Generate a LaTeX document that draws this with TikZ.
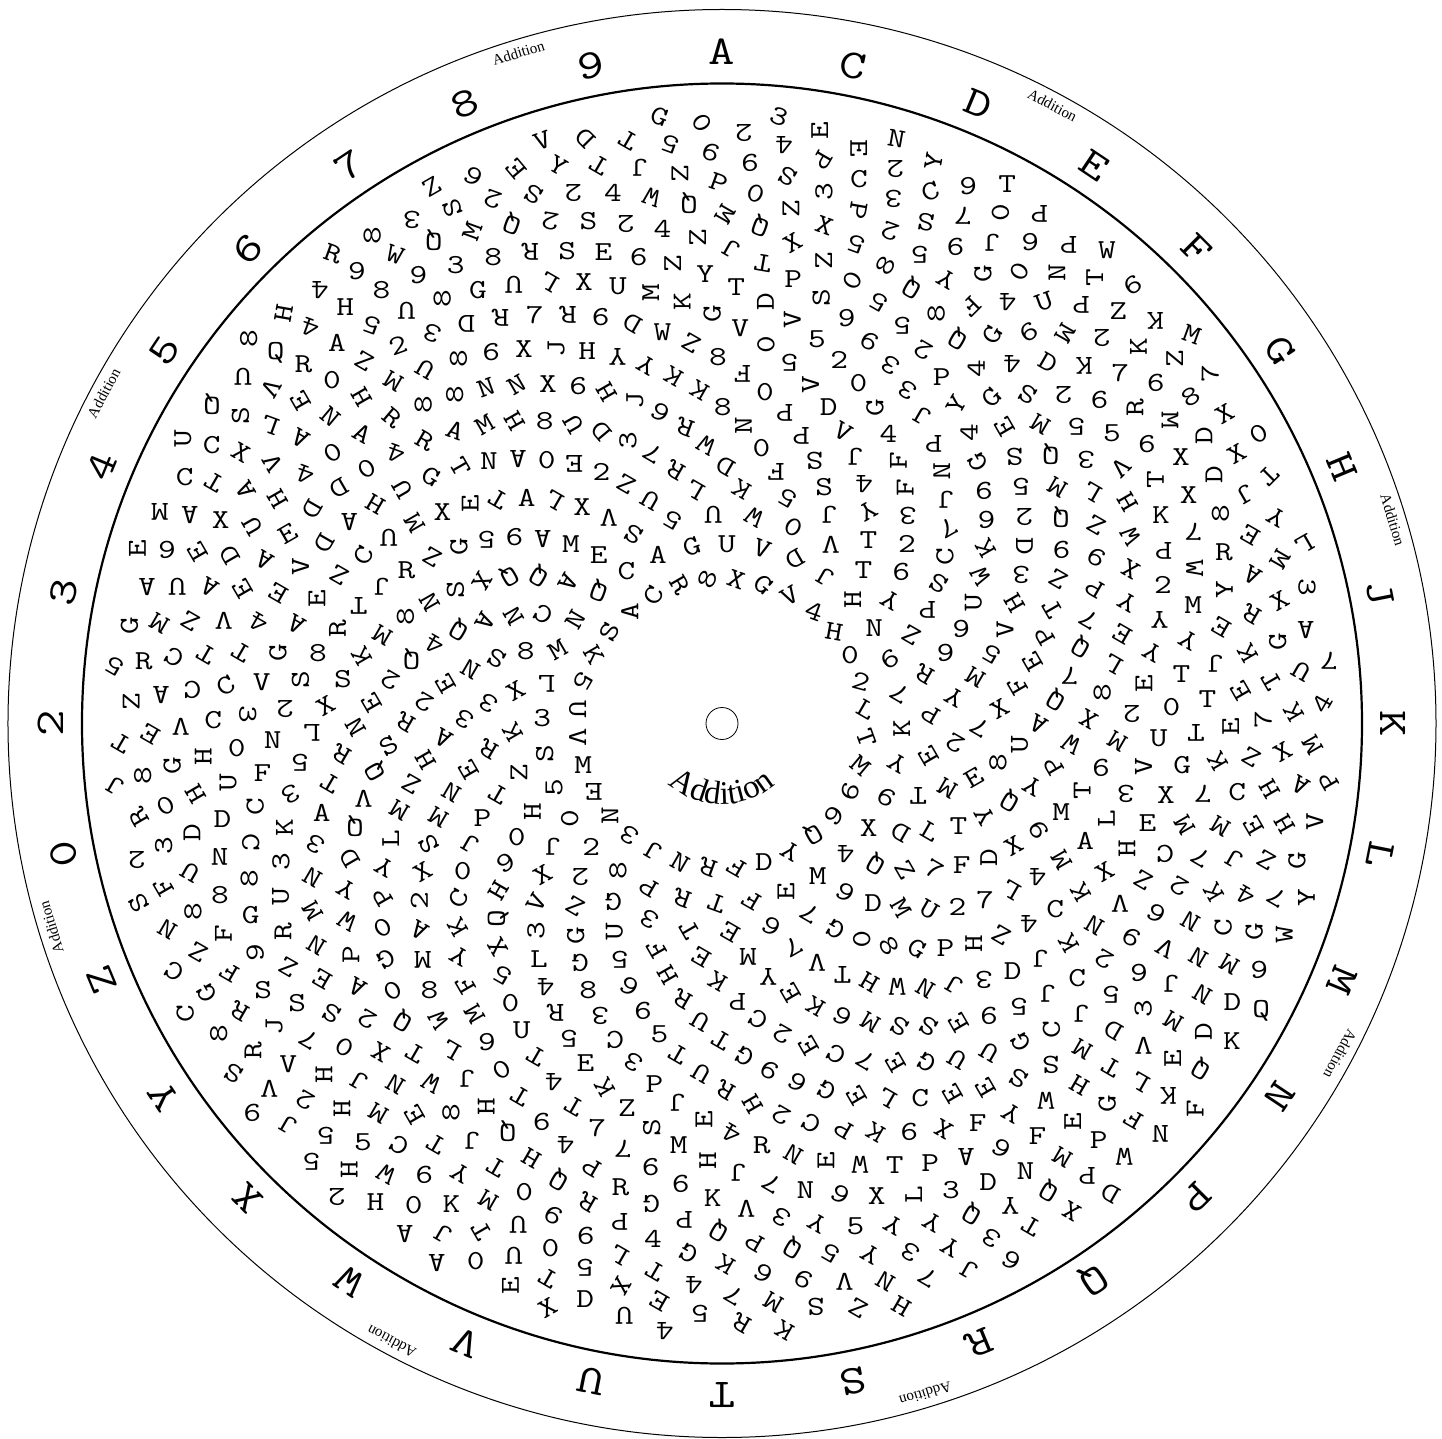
\documentclass[tikz,border=0pt]{standalone}
\usepackage{fontspec}
\setmainfont{Liberation Serif}
\usetikzlibrary{decorations.text}
% ---------- lattice snapping of read characters ----------
\newcommand\settile[2]{\gdef\wzox{#1}\gdef\wzoy{#2}}
\newcommand\wztry{%
  \pgfmathsetmacro\wzrj{sqrt(2.1025+1.1325*\wzj)}%
  \pgfmathsetmacro\wztj{5.625-4*\wzj}%
  \pgfmathtruncatemacro\wzkk{round((\wzth-\wztj)/11.25)}%
  \pgfmathsetmacro\wzt{\wztj+11.25*\wzkk}%
  \pgfmathsetmacro\wzd{(\wzrj*sin(\wzt)-\wzdx)^2+(\wzrj*cos(\wzt)-\wzdy)^2}%
  \ifdim\wzd pt<\wzbest pt
    \pgfmathtruncatemacro\wzk{mod(\wzkk+64,32)}%
    \xdef\wzbest{\wzd}\xdef\wzbj{\wzj}\xdef\wzbk{\wzk}%
  \fi}
\newcommand\gl[4]{%
  \pgfmathsetmacro\wzdx{(\wzox+#1/3-722)/100}%
  \pgfmathsetmacro\wzdy{(723.5-\wzoy-#2/3)/100}%
  \pgfmathsetmacro\wzth{atan2(\wzdx,\wzdy)}%
  \pgfmathtruncatemacro\wzjz{round((\wzdx*\wzdx+\wzdy*\wzdy-2.1025)/1.1325)}%
  \gdef\wzbest{1000}\gdef\wzbj{0}\gdef\wzbk{0}%
  \foreach \wzjj in {-1,0,1}{%
    \pgfmathtruncatemacro\wzj{\wzjz+\wzjj}%
    \ifnum\wzj>-1 \ifnum\wzj<32 \wztry\fi\fi}%
  \expandafter\gdef\csname C@\wzbj @\wzbk\endcsname{#3}%
  \expandafter\gdef\csname R@\wzbj @\wzbk\endcsname{#4}}
\newcommand\wzch[1]{\ifcase#1 A\or C\or D\or E\or F\or G\or H\or J\or K\or L\or M\or N\or P\or Q\or R\or S\or T\or U\or V\or W\or X\or Y\or Z\or 0\or 2\or 3\or 4\or 5\or 6\or 7\or 8\or 9\fi}
\begin{document}
\begin{tikzpicture}[x=1pt,y=1pt,
  ich/.style={font=\ttfamily\fontsize{27.5}{27.5}\selectfont,inner sep=0pt,text height=16.8pt,text depth=0pt,anchor=center},
  och/.style={font=\ttfamily\fontsize{41}{41}\selectfont,inner sep=0pt,text height=25pt,text depth=0pt,anchor=center},
  lab/.style={font=\fontsize{15}{15}\selectfont,inner sep=0pt,anchor=center}]
\useasboundingbox (-722,-714.5) rectangle (720,723.5);
% ================= readings (approximate tiles first) =================
\settile{952}{0}
\gl{45}{575}{9}{0}\gl{160}{560}{T}{0}\gl{15}{660}{7}{180}\gl{150}{650}{0}{90}\gl{255}{655}{P}{180}
\gl{15}{745}{6}{180}\gl{120}{740}{J}{180}\gl{230}{735}{9}{0}\gl{345}{745}{P}{180}\gl{465}{760}{W}{0}
\gl{85}{830}{G}{90}\gl{205}{820}{0}{60}\gl{310}{830}{N}{90}\gl{430}{840}{T}{90}\gl{535}{860}{9}{-150}
\gl{45}{930}{F}{-135}\gl{160}{925}{4}{180}\gl{270}{915}{U}{20}\gl{385}{935}{P}{180}\gl{490}{945}{Z}{0}
\gl{600}{990}{K}{180}\gl{715}{1010}{M}{-20}\gl{20}{1030}{Q}{150}\gl{115}{1020}{G}{60}\gl{230}{1015}{9}{-150}
\gl{330}{1015}{M}{-120}\gl{450}{1030}{2}{180}\gl{550}{1050}{K}{90}\gl{670}{1090}{Z}{90}\gl{760}{1120}{7}{90}
\gl{60}{1110}{4}{90}\gl{185}{1110}{4}{180}\gl{280}{1100}{D}{-30}\gl{390}{1110}{K}{180}\gl{500}{1125}{7}{0}
\gl{610}{1160}{9}{180}\gl{710}{1195}{8}{30}\gl{10}{1210}{Y}{60}\gl{115}{1200}{G}{45}\gl{220}{1190}{S}{150}
\gl{330}{1190}{2}{180}\gl{440}{1215}{9}{180}\gl{545}{1235}{R}{90}\gl{810}{1250}{X}{30}\gl{40}{1310}{4}{90}
\gl{160}{1295}{E}{120}\gl{260}{1280}{M}{150}\gl{370}{1300}{5}{180}\gl{470}{1300}{5}{0}\gl{660}{1260}{M}{-90}
\gl{740}{1310}{D}{90}\gl{905}{1300}{0}{30}\gl{70}{1390}{G}{120}\gl{185}{1385}{S}{180}\gl{290}{1370}{Q}{180}
\gl{400}{1380}{3}{180}\gl{575}{1350}{6}{0}\gl{680}{1375}{X}{0}\gl{850}{1370}{X}{30}\gl{490}{1420}{V}{-135}
\gl{600}{1440}{T}{90}\gl{770}{1440}{D}{90}\gl{930}{1440}{T}{-135}
\settile{0}{476}
\gl{1025}{30}{D}{-150}\gl{1230}{30}{U}{120}\gl{490}{110}{M}{180}\gl{580}{130}{A}{180}\gl{670}{130}{X}{0}
\gl{830}{85}{H}{120}\gl{770}{150}{U}{120}\gl{940}{100}{D}{-120}\gl{1050}{140}{A}{180}\gl{1130}{85}{H}{150}
\gl{1250}{130}{M}{120}\gl{1320}{100}{X}{0}\gl{1400}{90}{E}{90}\gl{415}{230}{E}{90}\gl{510}{220}{6}{180}
\gl{600}{235}{E}{120}\gl{700}{250}{D}{120}\gl{790}{270}{A}{150}\gl{890}{270}{V}{90}\gl{980}{210}{D}{-120}
\gl{1100}{250}{C}{60}\gl{1165}{200}{U}{180}\gl{1380}{215}{G}{90}\gl{440}{340}{A}{180}\gl{540}{330}{U}{180}
\gl{640}{330}{A}{150}\gl{735}{345}{E}{120}\gl{840}{355}{E}{150}\gl{1010}{300}{Z}{150}\gl{1220}{280}{R}{0}
\gl{1300}{255}{Z}{150}\gl{1150}{340}{J}{180}\gl{1350}{340}{S}{90}\gl{955}{375}{E}{90}\gl{395}{450}{G}{90}
\gl{480}{440}{M}{150}\gl{570}{440}{Z}{150}\gl{690}{425}{V}{180}\gl{775}{430}{4}{150}\gl{890}{440}{A}{150}
\gl{1070}{410}{T}{180}\gl{1010}{460}{R}{90}\gl{1190}{420}{8}{90}\gl{1295}{385}{N}{120}\gl{1365}{470}{Q}{150}
\gl{340}{575}{5}{150}\gl{440}{555}{R}{0}\gl{530}{545}{C}{150}\gl{630}{540}{T}{150}\gl{730}{530}{T}{150}
\gl{840}{530}{G}{90}\gl{960}{530}{8}{0}\gl{1150}{480}{M}{150}\gl{1085}{540}{K}{120}\gl{1300}{510}{4}{150}
\gl{1235}{560}{Q}{180}\gl{1380}{595}{N}{150}\gl{400}{680}{Z}{90}\gl{490}{650}{A}{180}\gl{570}{650}{C}{180}
\gl{685}{625}{C}{30}\gl{790}{610}{V}{0}\gl{910}{620}{S}{90}\gl{1030}{615}{S}{0}\gl{1165}{625}{2}{150}
\gl{1340}{640}{E}{120}\gl{370}{790}{T}{150}\gl{450}{775}{E}{150}\gl{540}{755}{V}{180}\gl{650}{730}{C}{0}
\gl{750}{720}{3}{-90}\gl{860}{700}{2}{180}\gl{980}{690}{X}{30}\gl{1095}{690}{E}{120}\gl{1270}{680}{2}{150}
\gl{1380}{720}{3}{150}\gl{345}{920}{J}{150}\gl{435}{900}{8}{90}\gl{520}{870}{G}{90}\gl{610}{845}{H}{90}
\gl{725}{820}{0}{0}\gl{820}{800}{N}{0}\gl{930}{780}{L}{180}\gl{1070}{750}{N}{120}\gl{1310}{785}{A}{150}
\gl{1200}{760}{R}{150}\gl{420}{1020}{R}{120}\gl{510}{990}{0}{30}\gl{600}{965}{H}{120}\gl{690}{920}{U}{90}
\gl{795}{890}{F}{0}\gl{900}{860}{5}{180}\gl{1015}{840}{R}{150}\gl{1120}{900}{Q}{120}\gl{1270}{860}{H}{120}
\gl{1380}{880}{E}{120}\gl{410}{1150}{2}{180}\gl{490}{1110}{3}{90}\gl{580}{1060}{D}{90}\gl{670}{1020}{D}{0}
\gl{775}{1000}{C}{90}\gl{875}{960}{3}{-150}\gl{990}{935}{T}{150}\gl{1100}{960}{V}{180}\gl{1240}{935}{Z}{150}
\gl{1350}{950}{N}{150}\gl{420}{1280}{S}{120}\gl{490}{1220}{F}{120}\gl{580}{1180}{U}{150}\gl{665}{1140}{N}{180}
\gl{760}{1090}{C}{-90}\gl{850}{1060}{K}{90}\gl{970}{1010}{A}{0}\gl{1070}{1060}{Q}{180}\gl{1200}{1010}{M}{150}
\gl{1320}{1020}{M}{150}\gl{500}{1350}{N}{150}\gl{585}{1300}{8}{90}\gl{660}{1255}{8}{0}\gl{745}{1200}{8}{90}
\gl{845}{1150}{3}{90}\gl{950}{1100}{3}{150}\gl{1050}{1160}{D}{120}\gl{1150}{1170}{Y}{150}\gl{1270}{1100}{S}{120}
\gl{1400}{1100}{J}{150}\gl{580}{1430}{Z}{150}\gl{670}{1385}{F}{90}\gl{760}{1310}{G}{0}\gl{845}{1270}{U}{90}
\gl{940}{1200}{N}{150}\gl{1040}{1230}{Y}{150}\gl{1250}{1190}{X}{30}\gl{1380}{1180}{0}{0}\gl{760}{1420}{9}{90}
\gl{850}{1380}{R}{90}\gl{945}{1330}{M}{120}\gl{1040}{1330}{W}{150}\gl{1160}{1280}{P}{120}\gl{1250}{1280}{2}{90}
\gl{1380}{1270}{C}{60}\gl{950}{1420}{N}{150}\gl{1050}{1420}{P}{90}\gl{1150}{1360}{0}{30}\gl{1260}{1360}{A}{150}
\gl{1380}{1400}{Y}{150}
\settile{952}{476}
\gl{90}{50}{9}{180}\gl{190}{30}{5}{180}\gl{310}{40}{M}{150}\gl{410}{60}{L}{150}\gl{520}{90}{H}{120}
\gl{700}{60}{X}{0}\gl{870}{60}{J}{-150}\gl{90}{140}{6}{180}\gl{210}{130}{2}{180}\gl{320}{130}{Q}{180}
\gl{430}{160}{Z}{150}\gl{520}{190}{W}{120}\gl{620}{130}{K}{0}\gl{800}{120}{8}{90}\gl{960}{140}{Y}{150}
\gl{1050}{210}{L}{-150}\gl{95}{230}{K}{120}\gl{220}{230}{D}{-90}\gl{320}{230}{9}{180}\gl{425}{270}{9}{150}
\gl{525}{290}{X}{150}\gl{620}{250}{P}{180}\gl{720}{190}{7}{180}\gl{805}{240}{R}{0}\gl{880}{190}{E}{150}
\gl{990}{260}{M}{-120}\gl{75}{310}{W}{120}\gl{200}{300}{3}{180}\gl{315}{310}{Z}{150}\gl{420}{340}{P}{150}
\gl{520}{380}{Y}{150}\gl{720}{300}{W}{-90}\gl{900}{320}{A}{150}\gl{1050}{340}{3}{-90}\gl{70}{380}{U}{90}
\gl{180}{380}{H}{120}\gl{290}{400}{T}{120}\gl{400}{430}{7}{150}\gl{620}{440}{Y}{180}\gl{710}{385}{M}{0}
\gl{900}{430}{R}{150}\gl{970}{380}{X}{30}\gl{25}{470}{6}{180}\gl{140}{460}{V}{90}\gl{265}{480}{P}{120}
\gl{370}{520}{Q}{150}\gl{505}{480}{E}{150}\gl{700}{500}{Y}{150}\gl{785}{480}{E}{150}\gl{880}{540}{K}{120}
\gl{960}{500}{G}{90}\gl{1040}{470}{A}{180}\gl{110}{550}{5}{150}\gl{230}{560}{E}{120}\gl{480}{570}{L}{150}
\gl{590}{530}{Y}{150}\gl{790}{570}{J}{180}\gl{1120}{550}{7}{180}\gl{60}{600}{M}{150}\gl{330}{620}{7}{180}
\gl{440}{650}{8}{90}\gl{560}{630}{E}{90}\gl{680}{600}{T}{0}\gl{850}{650}{E}{120}\gl{1040}{600}{U}{150}
\gl{140}{700}{X}{30}\gl{300}{680}{Q}{150}\gl{520}{720}{2}{180}\gl{650}{700}{0}{0}\gl{770}{660}{T}{0}
\gl{940}{640}{T}{120}\gl{1100}{680}{4}{60}\gl{80}{760}{7}{150}\gl{250}{750}{A}{150}\gl{390}{750}{X}{150}
\gl{500}{800}{M}{150}\gl{610}{785}{U}{0}\gl{720}{780}{T}{180}\gl{840}{760}{E}{90}\gl{1010}{720}{K}{120}
\gl{130}{870}{8}{90}\gl{440}{870}{9}{180}\gl{560}{870}{V}{90}\gl{680}{860}{G}{0}\gl{790}{850}{K}{120}
\gl{880}{830}{Z}{150}\gl{980}{830}{X}{30}\gl{1060}{820}{M}{120}\gl{240}{950}{Y}{150}\gl{150}{970}{Q}{150}
\gl{80}{1030}{Y}{120}\gl{370}{950}{T}{90}\gl{515}{955}{3}{180}\gl{640}{950}{X}{0}\gl{740}{950}{7}{180}
\gl{840}{960}{C}{0}\gl{930}{950}{H}{120}\gl{1050}{930}{A}{150}\gl{1120}{910}{P}{120}\gl{320}{1020}{M}{0}
\gl{250}{1060}{9}{120}\gl{460}{1040}{L}{90}\gl{570}{1040}{E}{0}\gl{690}{1045}{M}{120}\gl{790}{1060}{M}{150}
\gl{890}{1050}{E}{120}\gl{990}{1040}{H}{120}\gl{1080}{1030}{V}{90}\gl{100}{1150}{D}{90}\gl{175}{1095}{X}{30}
\gl{390}{1090}{A}{0}\gl{510}{1120}{H}{90}\gl{620}{1140}{C}{180}\gl{750}{1150}{7}{150}\gl{840}{1150}{J}{150}
\gl{930}{1150}{Z}{150}\gl{1020}{1150}{G}{90}\gl{90}{1270}{7}{0}\gl{180}{1240}{L}{150}\gl{250}{1210}{4}{180}
\gl{320}{1150}{M}{120}\gl{440}{1190}{X}{30}\gl{560}{1210}{Z}{150}\gl{680}{1230}{2}{150}\gl{770}{1250}{K}{120}
\gl{870}{1250}{4}{150}\gl{960}{1280}{7}{150}\gl{1050}{1270}{Y}{90}\gl{300}{1300}{C}{0}\gl{370}{1270}{K}{120}
\gl{500}{1290}{V}{180}\gl{600}{1300}{6}{150}\gl{700}{1330}{N}{150}\gl{800}{1350}{C}{90}\gl{900}{1370}{G}{90}
\gl{980}{1370}{W}{90}\gl{50}{1390}{H}{90}\gl{130}{1370}{Z}{150}\gl{220}{1330}{4}{180}\gl{330}{1390}{K}{120}
\gl{410}{1340}{N}{150}\gl{520}{1370}{9}{150}\gl{640}{1430}{V}{150}\gl{740}{1420}{N}{150}
\settile{0}{948}
\gl{520}{60}{C}{150}\gl{690}{60}{F}{150}\gl{870}{50}{Z}{150}\gl{970}{90}{E}{150}\gl{1080}{115}{A}{150}
\gl{1180}{120}{0}{30}\gl{1290}{120}{8}{0}\gl{1400}{100}{F}{120}\gl{550}{190}{C}{90}\gl{620}{130}{G}{120}
\gl{790}{125}{S}{0}\gl{890}{155}{S}{0}\gl{990}{195}{S}{150}\gl{1100}{210}{2}{150}\gl{1200}{235}{Q}{150}
\gl{1310}{220}{W}{120}\gl{1410}{205}{M}{120}\gl{660}{245}{8}{90}\gl{720}{185}{R}{150}\gl{830}{230}{J}{90}
\gl{940}{265}{7}{150}\gl{1030}{295}{0}{150}\gl{1140}{300}{X}{150}\gl{1260}{305}{T}{150}\gl{1360}{300}{L}{150}
\gl{700}{365}{S}{150}\gl{760}{300}{R}{90}\gl{860}{340}{V}{0}\gl{980}{380}{H}{90}\gl{1090}{385}{J}{150}
\gl{1190}{410}{N}{150}\gl{1290}{400}{W}{150}\gl{1400}{390}{J}{180}\gl{750}{490}{9}{180}\gl{800}{410}{V}{180}
\gl{920}{450}{2}{150}\gl{1020}{480}{H}{90}\gl{1130}{490}{M}{150}\gl{1240}{510}{E}{120}\gl{1350}{490}{8}{90}
\gl{870}{525}{J}{150}\gl{940}{640}{5}{180}\gl{970}{580}{5}{180}\gl{1100}{575}{5}{0}\gl{1190}{590}{C}{150}
\gl{1300}{580}{T}{150}\gl{1410}{580}{J}{180}\gl{1040}{660}{H}{90}\gl{1160}{670}{W}{150}\gl{1260}{670}{9}{180}
\gl{1380}{660}{Y}{150}\gl{1020}{740}{2}{180}\gl{1120}{750}{H}{0}\gl{1240}{770}{0}{0}\gl{1350}{760}{K}{0}
\gl{1210}{850}{A}{180}\gl{1320}{840}{J}{150}\gl{1430}{840}{T}{120}\gl{1300}{930}{A}{180}\gl{1420}{925}{0}{0}
\settile{476}{948}
\gl{190}{30}{L}{0}\gl{310}{40}{G}{180}\gl{430}{40}{5}{180}\gl{670}{30}{E}{150}\gl{100}{140}{0}{0}
\gl{210}{110}{4}{180}\gl{340}{120}{8}{0}\gl{450}{110}{6}{150}\gl{580}{100}{H}{120}\gl{710}{110}{K}{150}
\gl{870}{95}{Y}{180}\gl{1040}{60}{V}{180}\gl{1090}{90}{T}{180}\gl{1170}{100}{H}{150}\gl{1260}{110}{W}{180}
\gl{1340}{110}{N}{150}\gl{1430}{120}{J}{150}\gl{140}{240}{U}{0}\gl{230}{200}{R}{180}\gl{370}{210}{3}{180}
\gl{490}{170}{9}{180}\gl{620}{160}{R}{150}\gl{760}{170}{P}{180}\gl{920}{140}{E}{120}\gl{1010}{170}{K}{150}
\gl{1090}{200}{6}{150}\gl{1180}{230}{M}{150}\gl{1270}{230}{S}{150}\gl{1350}{230}{S}{150}\gl{1440}{220}{E}{120}
\gl{30}{280}{9}{0}\gl{270}{270}{5}{180}\gl{420}{270}{C}{180}\gl{540}{250}{5}{0}\gl{660}{220}{U}{150}
\gl{840}{220}{C}{150}\gl{910}{250}{2}{150}\gl{1010}{300}{E}{120}\gl{1070}{310}{C}{150}\gl{1150}{330}{7}{150}
\gl{1250}{330}{E}{120}\gl{1340}{340}{G}{150}\gl{1440}{330}{U}{150}\gl{70}{360}{0}{30}\gl{180}{320}{T}{150}
\gl{320}{340}{E}{0}\gl{460}{340}{3}{150}\gl{610}{330}{T}{150}\gl{710}{270}{T}{150}\gl{800}{320}{G}{150}
\gl{870}{350}{9}{150}\gl{960}{400}{6}{150}\gl{1040}{430}{G}{150}\gl{1150}{430}{E}{120}\gl{1210}{460}{L}{150}
\gl{1320}{440}{C}{0}\gl{1430}{430}{E}{120}\gl{30}{470}{H}{90}\gl{110}{440}{T}{150}\gl{220}{400}{4}{180}
\gl{380}{410}{K}{120}\gl{520}{395}{P}{0}\gl{650}{370}{U}{150}\gl{750}{420}{R}{150}\gl{830}{460}{H}{120}
\gl{940}{520}{2}{150}\gl{1000}{510}{C}{150}\gl{1080}{540}{P}{150}\gl{1190}{550}{K}{150}\gl{1290}{560}{9}{180}
\gl{1380}{540}{X}{150}\gl{80}{540}{Q}{180}\gl{190}{520}{9}{180}\gl{290}{460}{T}{150}\gl{450}{490}{Z}{0}
\gl{520}{530}{S}{90}\gl{600}{470}{J}{180}\gl{680}{510}{E}{90}\gl{750}{550}{4}{150}\gl{850}{590}{R}{0}
\gl{950}{610}{N}{150}\gl{1040}{640}{E}{90}\gl{1130}{640}{W}{180}\gl{1250}{640}{T}{0}\gl{1360}{620}{P}{0}
\gl{40}{650}{T}{150}\gl{150}{610}{H}{150}\gl{240}{580}{4}{180}\gl{360}{520}{7}{0}\gl{600}{580}{M}{0}
\gl{700}{630}{H}{90}\gl{790}{660}{J}{180}\gl{880}{700}{7}{150}\gl{985}{720}{N}{0}\gl{1090}{730}{6}{150}
\gl{1195}{745}{X}{0}\gl{1300}{730}{L}{90}\gl{1410}{720}{3}{0}\gl{30}{740}{M}{150}\gl{140}{720}{0}{0}
\gl{230}{680}{Q}{150}\gl{340}{660}{P}{150}\gl{450}{600}{7}{180}\gl{520}{660}{6}{0}\gl{600}{700}{9}{180}
\gl{710}{740}{K}{0}\gl{800}{790}{V}{180}\gl{910}{810}{3}{150}\gl{1010}{820}{Y}{150}\gl{1130}{820}{5}{0}
\gl{1260}{830}{Y}{150}\gl{1370}{840}{Y}{150}\gl{20}{830}{T}{120}\gl{120}{820}{U}{180}\gl{230}{800}{9}{150}
\gl{340}{770}{R}{150}\gl{430}{710}{R}{0}\gl{510}{770}{G}{180}\gl{610}{830}{P}{180}\gl{720}{850}{Q}{150}
\gl{830}{860}{P}{150}\gl{930}{900}{Q}{150}\gl{1050}{920}{5}{150}\gl{1160}{910}{Y}{150}\gl{1300}{910}{3}{150}
\gl{1420}{900}{Y}{150}\gl{110}{920}{U}{180}\gl{220}{890}{0}{0}\gl{330}{860}{9}{180}\gl{420}{830}{P}{180}
\gl{530}{860}{4}{0}\gl{620}{910}{G}{150}\gl{745}{940}{K}{150}\gl{850}{970}{6}{150}\gl{970}{990}{9}{150}
\gl{1100}{990}{V}{180}\gl{1210}{1000}{N}{150}\gl{1340}{980}{7}{150}\gl{100}{1010}{E}{90}\gl{220}{1000}{T}{150}
\gl{320}{960}{5}{180}\gl{420}{940}{L}{150}\gl{520}{970}{T}{150}\gl{650}{1020}{4}{180}\gl{780}{1110}{R}{150}
\gl{880}{1060}{M}{150}\gl{1010}{1060}{S}{180}\gl{1120}{1070}{Z}{150}\gl{1270}{1070}{H}{150}\gl{210}{1080}{X}{30}
\gl{320}{1040}{D}{0}\gl{440}{1090}{U}{180}\gl{540}{1060}{E}{150}\gl{660}{1080}{5}{180}\gl{770}{1060}{7}{150}
\gl{920}{1140}{K}{150}\gl{560}{1140}{4}{180}
\settile{952}{948}
\gl{260}{30}{J}{180}\gl{460}{30}{2}{150}\gl{720}{40}{N}{150}\gl{820}{50}{M}{150}\gl{910}{70}{6}{180}
\gl{80}{90}{3}{180}\gl{170}{70}{D}{0}\gl{360}{80}{C}{0}\gl{550}{70}{6}{180}\gl{660}{100}{J}{180}
\gl{740}{130}{N}{150}\gl{830}{160}{D}{0}\gl{910}{180}{Q}{0}\gl{110}{210}{9}{180}\gl{190}{180}{5}{180}
\gl{290}{140}{J}{180}\gl{460}{140}{5}{180}\gl{560}{200}{3}{90}\gl{650}{230}{M}{150}\gl{740}{250}{D}{90}
\gl{830}{275}{K}{0}\gl{100}{300}{U}{150}\gl{200}{290}{G}{120}\gl{290}{250}{C}{90}\gl{380}{200}{J}{180}
\gl{480}{250}{D}{150}\gl{570}{280}{V}{180}\gl{650}{330}{E}{90}\gl{720}{370}{Q}{150}\gl{100}{420}{E}{120}
\gl{190}{400}{S}{150}\gl{290}{350}{S}{180}\gl{380}{310}{M}{150}\gl{470}{350}{T}{150}\gl{540}{410}{L}{150}
\gl{640}{440}{K}{180}\gl{720}{480}{F}{90}\gl{60}{520}{F}{0}\gl{180}{490}{Y}{150}\gl{270}{460}{W}{180}
\gl{370}{420}{H}{150}\gl{460}{470}{G}{90}\gl{540}{510}{F}{150}\gl{610}{560}{N}{180}\gl{30}{620}{A}{180}
\gl{130}{600}{6}{150}\gl{240}{565}{F}{0}\gl{350}{510}{E}{90}\gl{430}{570}{P}{0}\gl{500}{620}{W}{180}
\gl{100}{700}{D}{0}\gl{210}{670}{N}{0}\gl{310}{620}{M}{150}\gl{400}{690}{P}{180}\gl{470}{730}{D}{150}
\gl{50}{790}{Q}{150}\gl{160}{750}{Y}{180}\gl{280}{730}{Q}{150}\gl{350}{780}{X}{150}\gl{100}{870}{3}{150}
\gl{230}{830}{T}{150}\gl{40}{960}{J}{150}\gl{170}{940}{6}{150}
\settile{476}{476}
\gl{460}{30}{Z}{150}\gl{1040}{30}{S}{0}\gl{1170}{30}{4}{180}\gl{1280}{50}{F}{90}\gl{1410}{60}{J}{180}
\gl{75}{85}{T}{150}\gl{150}{75}{A}{0}\gl{240}{85}{L}{150}\gl{320}{105}{X}{0}\gl{1290}{125}{3}{180}
\gl{30}{200}{5}{180}\gl{120}{190}{6}{0}\gl{200}{195}{A}{180}\gl{280}{220}{M}{0}\gl{1290}{210}{2}{0}
\gl{1400}{250}{C}{90}
% ---- tile 5: rings 2 and 3 (computed positions) ----
\gl{712}{116}{U}{180}\gl{834.7}{123}{W}{150}\gl{953.8}{153.8}{0}{150}\gl{1064.4}{207.2}{V}{180}
\gl{1162.5}{281.1}{T}{0}\gl{1244.4}{372.7}{Y}{150}\gl{1306.9}{478.8}{Z}{150}\gl{1347.4}{594.8}{R}{150}
\gl{1364.4}{716.5}{P}{150}\gl{1357.5}{839.2}{E}{120}\gl{1326.7}{958.3}{T}{180}\gl{1273.3}{1068.9}{D}{150}
\gl{1199.4}{1167.1}{Q}{150}\gl{1107.8}{1248.9}{6}{150}\gl{1001.7}{1311.4}{7}{150}\gl{885.7}{1351.9}{6}{150}
\gl{522.2}{1331.2}{3}{150}\gl{411.6}{1277.8}{G}{180}\gl{313.5}{1203.9}{2}{180}\gl{231.6}{1112.3}{J}{180}
\gl{169.1}{1006.2}{H}{90}\gl{128.6}{890.2}{Z}{90}\gl{111.6}{768.5}{K}{120}\gl{118.5}{645.8}{X}{30}
\gl{149.3}{526.7}{8}{0}\gl{202.7}{416.1}{C}{150}\gl{276.6}{318}{A}{-120}\gl{368.2}{236.1}{E}{0}
\gl{474.3}{173.6}{S}{150}\gl{590.3}{133.1}{5}{150}
\gl{797.3}{47.8}{K}{150}\gl{931.6}{72.7}{5}{150}\gl{1058.6}{123.4}{J}{180}\gl{1173.3}{197.8}{T}{0}
\gl{1271.2}{293.2}{9}{180}\gl{1348.5}{405.8}{P}{180}\gl{1402.5}{531.4}{6}{180}\gl{1430.9}{665.1}{Y}{150}
\gl{1432.7}{801.8}{2}{150}\gl{1407.8}{936.1}{M}{150}\gl{1187.3}{1275.6}{D}{0}\gl{1074.7}{1353}{G}{150}
\gl{204.8}{1191.8}{X}{30}\gl{302.7}{1287.2}{Z}{150}\gl{127.5}{1079.2}{0}{0}\gl{73.5}{953.6}{T}{150}
\gl{45.1}{819.9}{R}{150}\gl{43.3}{683.2}{3}{150}\gl{68.2}{548.9}{S}{150}\gl{118.9}{421.9}{N}{120}
\gl{193.4}{307.2}{Q}{150}\gl{288.7}{209.4}{M}{0}\gl{401.3}{132.1}{V}{180}\gl{526.9}{78}{U}{150}
\gl{660.6}{49.6}{L}{150}
% ---- tile 1 ----
\settile{0}{0}
\gl{1300}{565}{Z}{30}\gl{1425}{540}{6}{150}\gl{1365}{635}{S}{110}\gl{1245}{665}{3}{180}\gl{1420}{705}{M}{70}
\gl{1125}{720}{8}{90}\gl{1300}{740}{Q}{180}\gl{1000}{770}{R}{-20}\gl{1190}{770}{W}{-20}\gl{1075}{805}{9}{0}
\gl{1255}{825}{9}{0}\gl{1370}{800}{3}{0}\gl{960}{880}{4}{180}\gl{1150}{880}{8}{0}\gl{1440}{870}{G}{0}
\gl{860}{945}{H}{80}\gl{1045}{935}{H}{0}\gl{1340}{900}{8}{90}\gl{1230}{955}{U}{180}\gl{1410}{980}{D}{180}
\gl{745}{1020}{8}{90}\gl{925}{990}{4}{160}\gl{1120}{985}{5}{160}\gl{1300}{1010}{3}{160}\gl{830}{1050}{Q}{0}
\gl{1020}{1040}{A}{0}\gl{1195}{1045}{2}{20}\gl{1380}{1075}{8}{90}\gl{745}{1135}{U}{180}\gl{900}{1105}{R}{0}
\gl{1100}{1095}{Z}{150}\gl{1000}{1150}{0}{0}\gl{1280}{1115}{U}{150}\gl{1190}{1160}{M}{150}\gl{1440}{1160}{N}{30}
\gl{640}{1215}{Q}{180}\gl{820}{1180}{V}{-120}\gl{905}{1220}{E}{120}\gl{1090}{1200}{H}{120}\gl{1370}{1185}{8}{90}
\gl{720}{1250}{S}{90}\gl{1000}{1250}{N}{-40}\gl{1185}{1250}{R}{-40}\gl{1265}{1225}{8}{90}\gl{545}{1310}{U}{90}
\gl{780}{1295}{L}{160}\gl{920}{1310}{A}{150}\gl{1100}{1300}{A}{-30}\gl{1390}{1290}{A}{-20}\gl{640}{1335}{C}{0}
\gl{735}{1370}{X}{-30}\gl{1000}{1360}{0}{30}\gl{1200}{1370}{4}{160}\gl{1290}{1330}{R}{-30}\gl{1390}{1400}{T}{-60}
\gl{820}{1410}{V}{120}\gl{1100}{1410}{0}{30}\gl{560}{1430}{C}{0}\gl{650}{1440}{T}{150}\gl{905}{1425}{4}{160}
% ---- tile 2 (computed positions) ----
\settile{476}{0}
\gl{199}{421}{V}{20}\gl{551}{350}{G}{-20}\gl{909}{349}{3}{-20}\gl{1261}{417}{N}{-10}
\gl{329}{416}{D}{135}\gl{679}{370}{0}{-60}\gl{1031}{393}{E}{90}\gl{1372}{484}{Y}{80}
\gl{121}{508}{E}{130}\gl{457}{420}{T}{150}\gl{804}{398}{2}{180}\gl{1148}{445}{E}{-90}
\gl{246}{497}{Y}{-30}\gl{582}{433}{5}{160}\gl{924}{436}{4}{180}\gl{1259}{505}{2}{180}
\gl{51}{599}{2}{160}\gl{370}{495}{T}{150}\gl{704}{456}{9}{160}\gl{1039}{482}{P}{-120}\gl{1363}{573}{C}{20}
\gl{172}{583}{S}{150}\gl{493}{503}{J}{180}\gl{823}{487}{9}{180}\gl{1149}{536}{C}{0}
\gl{292}{577}{2}{180}\gl{612}{521}{Z}{90}\gl{936}{528}{S}{150}\gl{1253}{598}{3}{180}
\gl{107}{675}{Q}{160}\gl{411}{580}{4}{0}\gl{727}{547}{P}{-20}\gl{1044}{576}{3}{90}\gl{1349}{667}{S}{170}
\gl{223}{665}{2}{170}\gl{527}{593}{W}{160}\gl{839}{582}{0}{-20}\gl{1147}{632}{P}{-100}\gl{1438}{742}{9}{180}
\gl{51}{771}{8}{0}\gl{338}{663}{S}{0}\gl{639}{614}{Q}{180}\gl{945}{625}{Z}{90}\gl{1242}{695}{2}{160}
\gl{163}{757}{R}{180}\gl{450}{671}{2}{180}\gl{746}{644}{M}{-120}\gl{1045}{675}{X}{-20}\gl{1331}{764}{5}{180}
\gl{273}{752}{S}{0}\gl{559}{689}{4}{0}\gl{852}{683}{Q}{160}\gl{1140}{733}{5}{160}\gl{1413}{839}{Y}{150}
\gl{113}{853}{U}{180}\gl{382}{757}{E}{0}\gl{665}{714}{Z}{90}\gl{950}{728}{X}{30}\gl{1228}{797}{8}{60}
\gl{220}{846}{L}{150}\gl{488}{770}{6}{0}\gl{766}{748}{J}{150}\gl{1043}{781}{Z}{90}\gl{1308}{867}{Q}{150}
\gl{74}{954}{R}{180}\gl{324}{847}{X}{0}\gl{590}{792}{Z}{90}\gl{862}{790}{T}{170}\gl{1129}{840}{0}{60}\gl{1380}{942}{8}{90}
\gl{176}{944}{7}{0}\gl{426}{858}{U}{0}\gl{688}{822}{Y}{0}\gl{952}{839}{P}{0}\gl{1208}{906}{5}{150}\gl{1445}{1021}{Q}{150}
\gl{46}{1058}{6}{0}\gl{276}{944}{R}{180}\gl{524}{877}{M}{90}\gl{781}{860}{T}{0}\gl{1036}{894}{S}{90}\gl{1279}{977}{5}{180}
\gl{143}{1047}{X}{0}\gl{374}{952}{6}{0}\gl{619}{905}{K}{90}\gl{868}{906}{D}{90}\gl{1112}{956}{9}{0}\gl{1342}{1052}{2}{150}
\gl{30}{1164}{N}{20}\gl{240}{1045}{J}{90}\gl{469}{970}{D}{150}\gl{709}{940}{G}{90}\gl{949}{958}{V}{90}\gl{1181}{1023}{9}{150}\gl{1397}{1131}{P}{0}
\gl{123}{1154}{N}{30}\gl{334}{1053}{H}{0}\gl{560}{996}{W}{0}\gl{793}{983}{V}{0}\gl{1023}{1017}{5}{0}\gl{1238}{1093}{3}{150}
\gl{27}{1273}{M}{30}\gl{216}{1152}{X}{0}\gl{413}{1070}{Y}{180}\gl{646}{1029}{Z}{150}\gl{870}{1034}{0}{90}\gl{1089}{1081}{2}{0}\gl{1295}{1170}{3}{150}
\gl{117}{1263}{H}{120}\gl{306}{1160}{6}{0}\gl{512}{1095}{Y}{150}\gl{726}{1071}{8}{0}\gl{941}{1090}{5}{180}\gl{1147}{1150}{0}{0}\gl{1339}{1250}{J}{150}
\gl{39}{1384}{N}{0}\gl{206}{1263}{8}{0}\gl{393}{1177}{H}{120}\gl{594}{1129}{K}{150}\gl{800}{1120}{F}{180}\gl{1003}{1153}{V}{90}\gl{1197}{1224}{G}{90}\gl{1379}{1332}{P}{180}
\gl{126}{1377}{A}{180}\gl{293}{1273}{U}{120}\gl{476}{1203}{J}{90}\gl{670}{1171}{K}{150}\gl{867}{1177}{0}{0}\gl{1058}{1221}{D}{0}\gl{1237}{1301}{4}{0}
\gl{212}{1379}{0}{0}\gl{382}{1292}{D}{130}\gl{554}{1238}{6}{150}\gl{740}{1220}{8}{0}\gl{925}{1239}{P}{180}\gl{1103}{1294}{V}{-30}\gl{1269}{1381}{F}{90}
\gl{296}{1392}{E}{180}\gl{456}{1321}{3}{90}\gl{627}{1283}{R}{160}\gl{802}{1278}{N}{90}\gl{975}{1308}{P}{180}\gl{1139}{1370}{J}{180}
\gl{382}{1417}{2}{0}\gl{530}{1360}{7}{150}\gl{692}{1336}{W}{150}\gl{856}{1343}{0}{0}\gl{1015}{1381}{S}{180}
\gl{599}{1411}{R}{150}\gl{749}{1398}{D}{150}\gl{900}{1415}{F}{180}
% ---- rings 0 and 1 (computed positions, tile 5) ----
\settile{476}{476}
\gl{780.6}{309.6}{X}{-20}\gl{864.3}{326.3}{G}{-40}\gl{943.1}{358.9}{V}{30}\gl{1014}{406.2}{4}{-20}
\gl{1074.3}{466.5}{H}{-10}\gl{1121.6}{537.4}{0}{0}\gl{1154.3}{616.2}{2}{-15}\gl{1170.9}{699.9}{L}{-30}
\gl{1170.9}{785.1}{T}{-70}\gl{1154.3}{868.8}{M}{-40}\gl{1121.6}{947.6}{9}{-110}\gl{1074.3}{1018.5}{6}{-130}
\gl{1014}{1078.8}{Q}{-150}\gl{943.1}{1126.1}{Y}{150}\gl{864.3}{1158.7}{D}{0}\gl{780.6}{1175.4}{F}{150}
\gl{695.4}{1175.4}{R}{160}\gl{611.7}{1158.7}{N}{-30}\gl{532.9}{1126.1}{J}{150}\gl{462}{1078.8}{3}{150}
\gl{401.7}{1018.5}{N}{90}\gl{354.4}{947.6}{E}{180}\gl{321.7}{868.8}{M}{0}\gl{305.1}{785.1}{V}{-90}
\gl{305.1}{699.9}{U}{-90}\gl{321.7}{616.2}{5}{-120}\gl{354.4}{537.4}{K}{-60}\gl{401.7}{466.5}{S}{60}
\gl{462}{406.2}{A}{90}\gl{532.9}{358.9}{C}{60}\gl{611.7}{326.3}{R}{-60}\gl{695.4}{309.6}{8}{70}
\gl{753.3}{203}{U}{0}\gl{858.2}{216.3}{V}{-20}\gl{958.6}{249.9}{D}{-150}\gl{1050.4}{302.4}{J}{150}
\gl{1130.3}{371.8}{H}{90}\gl{1195.1}{455.5}{N}{0}\gl{1242.3}{550.2}{9}{-150}\gl{1270.1}{652.3}{7}{150}
\gl{1277.5}{757.8}{K}{90}\gl{1264.1}{862.7}{Y}{150}\gl{1230.6}{963.1}{9}{150}\gl{1178.1}{1054.9}{X}{0}
\gl{1108.7}{1134.8}{4}{180}\gl{1025}{1199.6}{M}{0}\gl{930.3}{1246.8}{E}{90}\gl{828.2}{1274.6}{F}{150}
\gl{722.7}{1282}{T}{160}\gl{617.8}{1268.7}{R}{160}\gl{517.4}{1235.1}{P}{150}\gl{425.6}{1182.6}{8}{90}
\gl{345.7}{1113.2}{2}{0}\gl{280.9}{1029.5}{0}{90}\gl{233.7}{934.8}{5}{90}\gl{205.9}{832.7}{S}{90}
\gl{198.5}{727.2}{3}{0}\gl{211.9}{622.3}{L}{180}\gl{245.4}{521.9}{M}{30}\gl{297.9}{430.1}{N}{60}
\gl{367.3}{350.2}{Q}{160}\gl{451}{285.4}{C}{0}\gl{545.7}{238.2}{A}{0}\gl{647.7}{210.4}{G}{20}
% ================= drawing =================
\draw[line width=1pt] (0,0) circle (714);
\draw[line width=2.2pt] (0,0) circle (640);
\draw[line width=0.8pt] (0,0) circle (16);
\foreach \c [count=\i from 0] in {A,C,D,E,F,G,H,J,K,L,M,N,P,Q,R,S,T,U,V,W,X,Y,Z,0,2,3,4,5,6,7,8,9}{
  \node[och,rotate={-11.25*\i},xscale=1.25] (o\i) at ({90-11.25*\i}:671) {\c};}
\foreach \i in {0,...,7}{
  \node[lab,rotate={16.875-45*\i}] (a\i) at ({106.875-45*\i}:701) {Addition};}
\path[decorate,decoration={text along path,text align=center,
  text={|\fontsize{33}{33}\selectfont|Addition}}] (215:81) arc (215:325:81);
\foreach \j in {0,...,31}{%
  \pgfmathsetmacro\rj{100*sqrt(2.1025+1.1325*\j)}%
  \foreach \k in {0,...,31}{%
    \pgfmathsetmacro\th{5.625-4*\j+11.25*\k}%
    \ifcsname C@\j @\k\endcsname
      \edef\cc{\csname C@\j @\k\endcsname}\edef\rr{\csname R@\j @\k\endcsname}%
    \else
      \pgfmathtruncatemacro\di{mod(7*\j+13*\k+5,32)}%
      \edef\cc{\wzch{\di}}%
      \pgfmathtruncatemacro\rr{mod(37*\j+59*\k,12)*30-150}%
    \fi
    \node[ich,rotate=\rr,xscale=1.25] (c\j-\k) at ({90-\th}:\rj) {\cc};}}
\end{tikzpicture}
\end{document}
